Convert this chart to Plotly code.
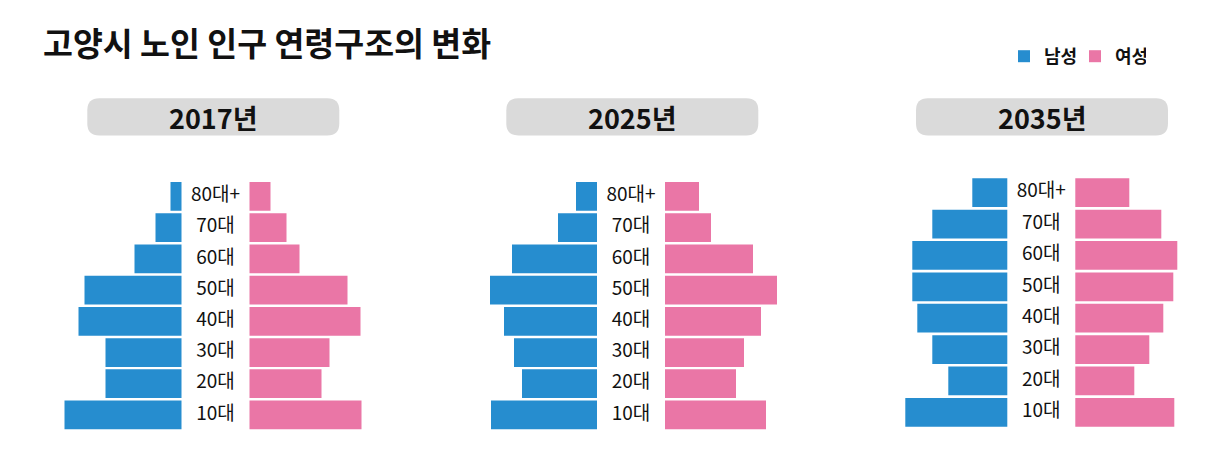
import plotly.graph_objects as go

# 연령대 (아래 -> 위)
ages = ['10대', '20대', '30대', '40대', '50대', '60대', '70대', '80대+']
years = ['2017년', '2025년', '2035년']

male_2017 = [117, 76, 76, 103, 97, 47, 26, 11]
female_2017 = [112, 72, 80, 111, 98, 50, 37, 21]
male_2025 = [106, 75, 83, 93, 107, 85, 39, 21]
female_2025 = [101, 71, 79, 96, 112, 88, 46, 34]
male_2035 = [102, 59, 75, 90, 95, 95, 75, 35]
female_2035 = [99, 59, 74, 88, 98, 102, 86, 54]

males = [male_2017, male_2025, male_2035]
females = [female_2017, female_2025, female_2035]

W, H = 1229, 454
BLUE = '#268dcf'
PINK = '#ea76a6'
FONT = 'Noto Sans CJK KR'
HALF_GAP = 34


def px_x(x):
    return x / W


def px_y(y):
    return 1 - y / H


def rounded_box(x0, y0, x1, y1, r):
    # 모서리가 둥근 사각형 (paper 좌표)
    X = lambda v: f'{px_x(v):.5f}'
    Y = lambda v: f'{px_y(v):.5f}'
    return (f'M {X(x0 + r)},{Y(y0)} L {X(x1 - r)},{Y(y0)} '
            f'Q {X(x1)},{Y(y0)} {X(x1)},{Y(y0 + r)} '
            f'L {X(x1)},{Y(y1 - r)} Q {X(x1)},{Y(y1)} {X(x1 - r)},{Y(y1)} '
            f'L {X(x0 + r)},{Y(y1)} Q {X(x0)},{Y(y1)} {X(x0)},{Y(y1 - r)} '
            f'L {X(x0)},{Y(y0 + r)} Q {X(x0)},{Y(y0)} {X(x0 + r)},{Y(y0)} Z')


# 패널별 위치 (px)
centers = [215.5, 631.0, 1041.3]
x_domains = [(0, 410), (420, 840), (850, 1229)]
y_domains = [(180.7, 430.6), (180.7, 430.6), (177.0, 428.0)]
box_centers = [213.3, 632.3, 1042.0]

fig = go.Figure()

for i in range(3):
    ax = '' if i == 0 else str(i + 1)
    fig.add_trace(go.Bar(
        y=ages, x=[-v for v in males[i]], base=-HALF_GAP,
        orientation='h', marker=dict(color=BLUE, line=dict(width=0)),
        name='남성', legendgroup='m', showlegend=(i == 0),
        xaxis='x' + ax, yaxis='y' + ax, hoverinfo='skip'
    ))
    fig.add_trace(go.Bar(
        y=ages, x=females[i], base=HALF_GAP,
        orientation='h', marker=dict(color=PINK, line=dict(width=0)),
        name='여성', legendgroup='f', showlegend=(i == 0),
        xaxis='x' + ax, yaxis='y' + ax, hoverinfo='skip'
    ))
    fig.add_trace(go.Scatter(
        y=ages, x=[0] * len(ages), mode='text', text=ages,
        textfont=dict(family=FONT, size=19, color='#111111'),
        showlegend=False, xaxis='x' + ax, yaxis='y' + ax, hoverinfo='skip'
    ))

    d0, d1 = x_domains[i]
    c = centers[i]
    fig.layout['xaxis' + ax] = dict(
        domain=[px_x(d0), px_x(d1)], range=[d0 - c, d1 - c],
        visible=False, fixedrange=True, anchor='y' + ax)
    t, b = y_domains[i]
    fig.layout['yaxis' + ax] = dict(
        domain=[px_y(b), px_y(t)], range=[-0.5, 7.5], type='category',
        categoryorder='array', categoryarray=ages,
        visible=False, fixedrange=True, anchor='x' + ax)

    # 연도 라벨 박스
    bc = box_centers[i]
    fig.add_shape(type='path', xref='paper', yref='paper',
                  path=rounded_box(bc - 126, 98.3, bc + 126, 135.5, 12),
                  fillcolor='#dadada', line=dict(width=0), layer='below')
    fig.add_annotation(x=px_x(bc), y=px_y(117), xref='paper', yref='paper',
                       text='<b>' + years[i] + '</b>', showarrow=False,
                       xanchor='center', yanchor='middle',
                       font=dict(family=FONT, size=27, color='#111111'))

fig.add_annotation(x=px_x(41), y=px_y(41), xref='paper', yref='paper',
                   text='<b>고양시 노인 인구 연령구조의 변화</b>', showarrow=False,
                   xanchor='left', yanchor='middle',
                   font=dict(family=FONT, size=32.5, color='#111111'))

fig.update_layout(
    width=W, height=H,
    margin=dict(l=0, r=0, t=0, b=0),
    paper_bgcolor='white', plot_bgcolor='white',
    barmode='overlay', bargap=0.08,
    font=dict(family=FONT),
    legend=dict(orientation='h', x=px_x(1004), y=px_y(56.5),
                xanchor='left', yanchor='middle',
                font=dict(family=FONT, size=18, color='#111111', weight='bold'),
                itemwidth=30, entrywidth=26, traceorder='normal',
                bgcolor='rgba(0,0,0,0)'),
)

fig.write_html('out.html', config={'displayModeBar': False},
               post_script="document.body.style.margin='0';")
